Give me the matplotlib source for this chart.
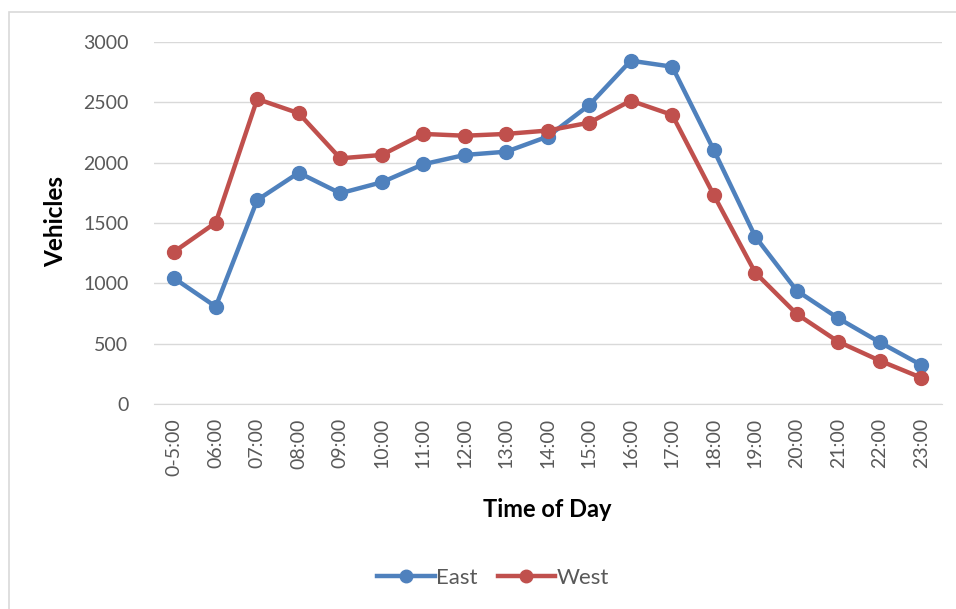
import matplotlib
matplotlib.use("Agg")
import matplotlib.pyplot as plt
from matplotlib.patches import Rectangle
from matplotlib.lines import Line2D

plt.rcParams['font.family'] = ['Lato', 'DejaVu Sans']

hours = ['0-5:00', '06:00', '07:00', '08:00', '09:00', '10:00', '11:00', '12:00',
         '13:00', '14:00', '15:00', '16:00', '17:00', '18:00', '19:00', '20:00',
         '21:00', '22:00', '23:00']
east = [1042, 808, 1690, 1916, 1746, 1837, 1986, 2063, 2090, 2215, 2476, 2843,
        2793, 2104, 1387, 940, 712, 513, 325]
west = [1263, 1503, 2526, 2408, 2035, 2063, 2237, 2222, 2237, 2265, 2330, 2512,
        2394, 1732, 1089, 747, 518, 361, 220]
yticks = [0, 500, 1000, 1500, 2000, 2500, 3000]

W, H = 956, 609
fig = plt.figure(figsize=(W / 100, H / 100), dpi=100)

# chart area border (left and top visible)
fig.patches.append(Rectangle((9 / W, -0.05), 1.1, 1 - 12 / H + 0.05,
                             transform=fig.transFigure, fill=False,
                             edgecolor='#d9d9d9', linewidth=1.2))

left, right, top, bottom = 153.5, 942, 41.7, 404.3
ax = fig.add_axes([left / W, 1 - bottom / H, (right - left) / W, (bottom - top) / H])

x = list(range(len(hours)))
ax.plot(x, east, color='#4F81BD', lw=3.2, marker='o', ms=10, label='East')
ax.plot(x, west, color='#C0504D', lw=3.2, marker='o', ms=10, label='West')

ax.set_xlim(-0.5, len(hours) - 0.5)
ax.set_ylim(0, 3000)
ax.set_yticks(yticks)
ax.set_yticklabels([str(v) for v in yticks])
ax.set_xticks(x)
ax.set_xticklabels(hours, rotation=90)
ax.yaxis.grid(True, color='#d9d9d9', lw=1)
ax.set_axisbelow(True)
for s in ['top', 'right', 'left']:
    ax.spines[s].set_visible(False)
ax.spines['bottom'].set_color('#d9d9d9')
ax.tick_params(axis='both', length=0, colors='#595959', labelsize=14)
ax.tick_params(axis='y', pad=18)
ax.tick_params(axis='x', pad=10)

ax.set_ylabel('Vehicles', fontsize=17.5, fontweight='bold', color='black')
ax.set_xlabel('Time of Day', fontsize=17, fontweight='bold', color='black')
ax.yaxis.set_label_coords(-0.110, 0.503)
ax.xaxis.set_label_coords(0.499, -0.258)

handles = [Line2D([], [], color='#4F81BD', lw=3.2, marker='o', ms=9),
           Line2D([], [], color='#C0504D', lw=3.2, marker='o', ms=9)]
fig.legend(handles, ['East', 'West'], loc='center', bbox_to_anchor=(493 / W, 1 - 578 / H),
           ncol=2, frameon=False, fontsize=16, handlelength=2.6, handletextpad=0.05,
           columnspacing=0.9, labelcolor='#595959')

fig.savefig('out.png', dpi=100)
